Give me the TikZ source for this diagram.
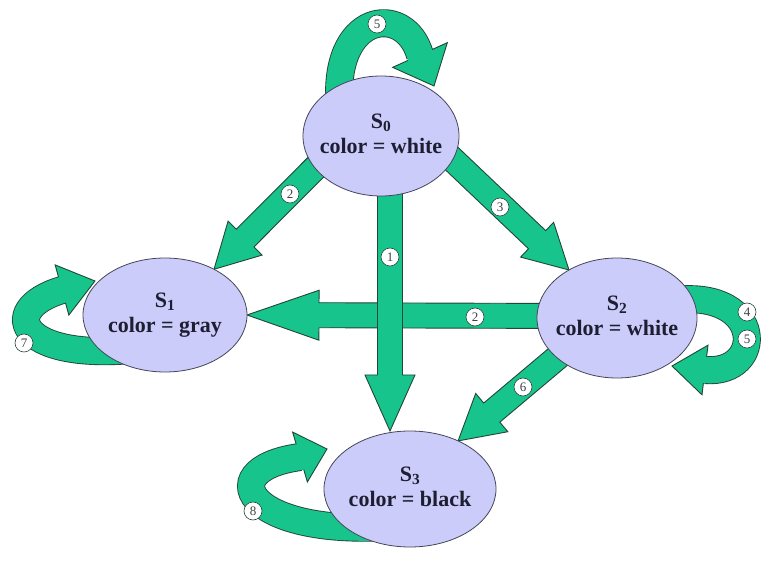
\documentclass[tikz,border=0pt]{standalone}
\usepackage{fontspec}
\setmainfont{Liberation Serif}
\usetikzlibrary{calc,backgrounds,shapes.geometric}
\pgfdeclarelayer{bottom}
\pgfsetlayers{bottom,background,main}
\definecolor{arrgreen}{RGB}{22,196,140}
\definecolor{arredge}{RGB}{35,70,55}
\definecolor{statefill}{RGB}{204,204,250}
\definecolor{stateedge}{RGB}{70,70,90}
\definecolor{txt}{RGB}{30,30,50}
\tikzset{
 state/.style={ellipse, draw=stateedge, fill=statefill, line width=0.8pt, inner sep=0pt, outer sep=0pt,
   font=\fontsize{22}{25}\selectfont\bfseries, text=txt},
 arr/.style={fill=arrgreen, draw=arredge, line width=0.9pt, line join=miter},
 loopedge/.style={draw=arredge, line width=28pt},
 loopfill/.style={draw=arrgreen, line width=26.2pt},
 num/.style={circle, draw=arredge, fill=white, line width=0.6pt, inner sep=0pt, minimum size=18pt,
   font=\fontsize{13}{13}\selectfont, text=black!75},
}
\newcommand\blockarr[5]{%
 \coordinate (hb) at ($(#2)!#5!(#1)$);
 \filldraw[arr] ($(#1)!#3!90:(#2)$) -- ($(hb)!#3!90:(#2)$) -- ($(hb)!#4!90:(#2)$) -- (#2)
   -- ($(hb)!#4!-90:(#2)$) -- ($(hb)!#3!-90:(#2)$) -- ($(#1)!#3!-90:(#2)$) -- cycle;}
\newcommand\loophead[3]{%
 \filldraw[arr] ($(#1)!#3!90:(#2)$) -- (#2) -- ($(#1)!#3!-90:(#2)$) -- cycle;}
\newcommand\stlabel[2]{\makebox[0pt]{\begin{tabular}{@{}c@{}}S\textsubscript{#1}\\ color = #2\end{tabular}}}
\begin{document}
\begin{tikzpicture}[x=1pt,y=-1pt]
\useasboundingbox (0,0) rectangle (764,561);
\begin{pgfonlayer}{bottom}
\fill[white] (0,0) rectangle (764,561);
\end{pgfonlayer}
% states
\node[state, minimum width=156pt, minimum height=120pt] (s0) at (381,136) {\stlabel{0}{white}};
\node[state, minimum width=164pt, minimum height=114pt] (s1) at (165,315) {\stlabel{1}{gray}};
\node[state, minimum width=160pt, minimum height=120pt] (s2) at (617,318) {\stlabel{2}{white}};
\node[state, minimum width=172pt, minimum height=116pt] (s3) at (410,489) {\stlabel{3}{black}};
\begin{pgfonlayer}{background}
% self loop S0
\coordinate (l0s) at (340,110); \coordinate (l0e) at (420,55); \coordinate (l0t) at (434,86);
\draw[loopedge] (l0s) .. controls (330,12) and (405,2) .. (l0e);
\loophead{l0e}{l0t}{30pt}
\draw[loopfill] (l0s) .. controls (330,12) and (405,2) .. (l0e) -- ($(l0e)!2pt!(l0t)$);
% self loop S1
\coordinate (l1s) at (150,348); \coordinate (l1e) at (62,290); \coordinate (l1t) at (95,281);
\draw[loopedge] (l1s) .. controls (20,365) and (-5,310) .. (l1e);
\loophead{l1e}{l1t}{26pt}
\draw[loopfill] (l1s) .. controls (20,365) and (-5,310) .. (l1e) -- ($(l1e)!2pt!(l1t)$);
% self loop S2
\coordinate (l2s) at (675,300); \coordinate (l2e) at (705,370); \coordinate (l2t) at (672,366);
\draw[loopedge] (l2s) .. controls (765,290) and (765,375) .. (l2e);
\loophead{l2e}{l2t}{25pt}
\draw[loopfill] (l2s) .. controls (765,290) and (765,375) .. (l2e) -- ($(l2e)!2pt!(l2t)$);
% self loop S3
\coordinate (l3s) at (420,524); \coordinate (l3e) at (300,457); \coordinate (l3t) at (327,449);
\draw[loopedge] (l3s) .. controls (250,545) and (205,470) .. (l3e);
\loophead{l3e}{l3t}{26pt}
\draw[loopfill] (l3s) .. controls (250,545) and (205,470) .. (l3e) -- ($(l3e)!2pt!(l3t)$);
% straight transitions
\coordinate (a2hs) at (570,316);
\blockarr{a2hs}{s1.east}{12.5pt}{25pt}{72pt}
\coordinate (a1s) at (390,175);
\blockarr{a1s}{s3.north -| a1s}{12.5pt}{25pt}{56pt}
\coordinate (a2ds) at (335,148);
\blockarr{a2ds}{s1.43}{12.5pt}{24pt}{44pt}
\coordinate (a3s) at (430,138);
\blockarr{a3s}{s2.135}{12.5pt}{24pt}{44pt}
\coordinate (a6s) at (590,330);
\blockarr{a6s}{s3.45}{12.5pt}{25pt}{44pt}
\end{pgfonlayer}
% transition numbers
\node[num] (n5a) at (377,24) {5};
\node[num] (n7) at (24,343) {7};
\node[num] (n4) at (747,312) {4};
\node[num] (n5b) at (747,339) {5};
\node[num] (n8) at (253,511) {8};
\node[num] (n1) at (390,257) {1};
\node[num] (n2h) at (475,317) {2};
\node[num] (n2d) at (290,194) {2};
\node[num] (n3) at (500,207) {3};
\node[num] (n6) at (523,387) {6};
\end{tikzpicture}
\end{document}
